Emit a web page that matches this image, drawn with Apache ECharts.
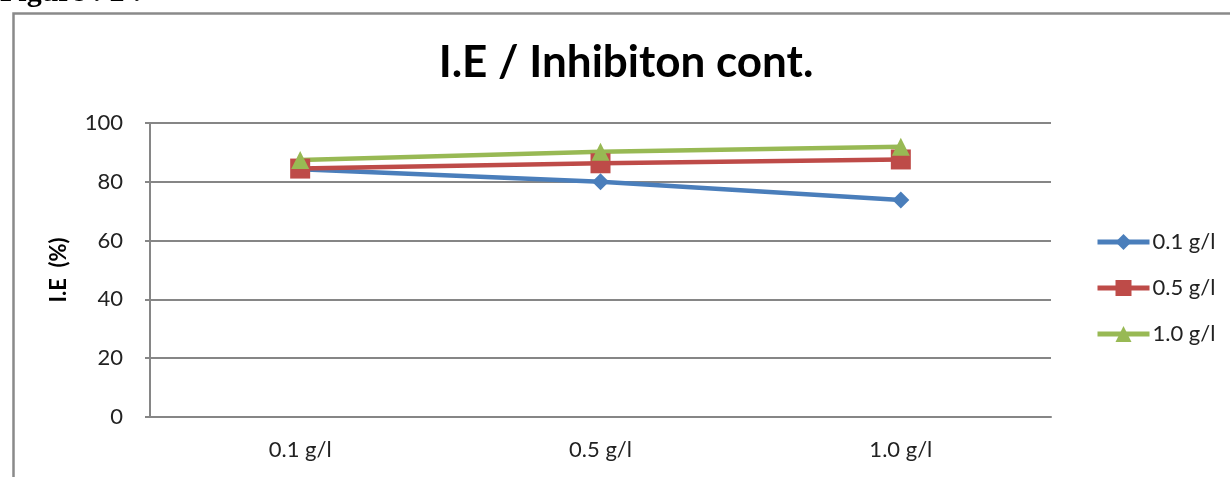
<!DOCTYPE html>
<html>
<head>
<meta charset="utf-8">
<script src="https://cdn.jsdelivr.net/npm/echarts@6/dist/echarts.min.js"></script>
<style>
html,body{margin:0;padding:0;background:#fff;}
#c{width:1230px;height:477px;}
</style>
</head>
<body>
<div id="c"></div>
<script>
const categories = ['0.1 g/l', '0.5 g/l', '1.0 g/l'];
const seriesNames = ['0.1 g/l', '0.5 g/l', '1.0 g/l'];
const s01 = [84.3, 80.0, 73.8];
const s05 = [84.5, 86.3, 87.6];
const s10 = [87.4, 90.2, 91.9];
const yTicks = [0, 20, 40, 60, 80, 100];

const FONT = 'Lato, "Open Sans", sans-serif';
const chart = echarts.init(document.getElementById('c'), null, {renderer: 'canvas'});

function mkSeries(name, data, color, symbol, size) {
  return {
    name: name, type: 'line', data: data,
    symbol: symbol, symbolSize: size,
    lineStyle: {color: color, width: 4.5},
    itemStyle: {color: color},
    emphasis: {disabled: true},
    animation: false
  };
}

chart.setOption({
  animation: false,
  backgroundColor: '#fff',
  title: {
    text: 'I.E / Inhibiton cont.',
    left: 621, top: 36, textAlign: 'center',
    textStyle: {fontFamily: FONT, fontWeight: 'bold', fontSize: 44, color: '#000'}
  },
  graphic: [
    {type: 'rect', left: 11, top: 11, shape: {x: 0, y: 0, width: 1240, height: 480},
     style: {fill: 'none', stroke: '#8a8a8a', lineWidth: 2.5}, silent: true},
    {type: 'text', left: 0, top: -22,
     style: {text: 'Figure : 2 :', font: 'bold 30px "Liberation Serif", "DejaVu Serif", serif', fill: '#000'}}
  ],
  legend: {
    orient: 'vertical', left: 1090, top: 226,
    itemWidth: 52, itemHeight: 20, itemGap: 24,
    lineStyle: {width: 5},
    textStyle: {fontFamily: FONT, fontSize: 22, color: '#222', padding: [0, 0, 0, -2]},
    data: seriesNames
  },
  grid: {left: 150, top: 123, width: 901, height: 294, containLabel: false},
  xAxis: {
    type: 'category', data: categories, boundaryGap: true,
    axisLine: {show: true, lineStyle: {color: '#868686', width: 2}},
    axisTick: {show: false},
    axisLabel: {fontFamily: FONT, fontSize: 22, color: '#222', margin: 22}
  },
  yAxis: {
    type: 'value', min: 0, max: 100, interval: 20,
    name: 'I.E  (%)', nameLocation: 'middle', nameGap: 80, nameRotate: 90,
    nameTextStyle: {fontFamily: FONT, fontWeight: 'bold', fontSize: 22, color: '#000'},
    axisLine: {show: true, lineStyle: {color: '#868686', width: 2}},
    axisTick: {show: true, length: 5, lineStyle: {color: '#868686', width: 2}},
    splitLine: {show: true, lineStyle: {color: '#868686', width: 2}},
    axisLabel: {fontFamily: FONT, fontSize: 22, color: '#222', margin: 27,
      formatter: function (v) { return yTicks.indexOf(v) >= 0 ? String(v) : ''; }}
  },
  series: [
    mkSeries(seriesNames[0], s01, '#4A7EBB', 'diamond', 17),
    mkSeries(seriesNames[1], s05, '#BE4B48', 'rect', 20),
    mkSeries(seriesNames[2], s10, '#98B954', 'triangle', 18)
  ]
});
</script>
</body>
</html>
